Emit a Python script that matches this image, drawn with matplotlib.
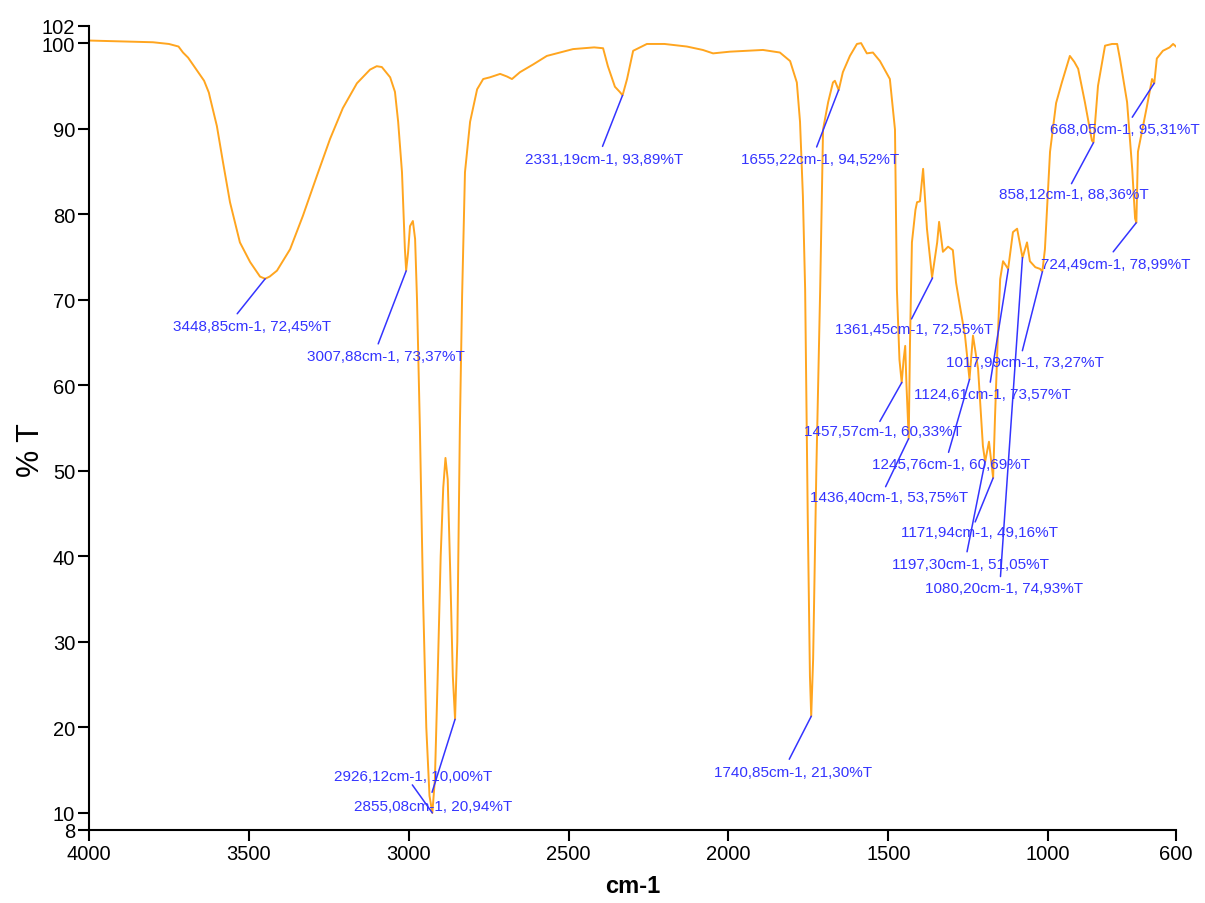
import matplotlib
matplotlib.use('Agg')
import matplotlib.pyplot as plt

plt.rcParams['font.family'] = ['Liberation Sans', 'DejaVu Sans']

# spectrum (cm-1, %T)
golfgetal = [4000, 3900, 3800, 3750, 3720, 3706, 3690, 3662, 3640, 3625, 3622, 3600, 3581, 3559,
             3528, 3496, 3465, 3449, 3435, 3412, 3371, 3331, 3287, 3246, 3206, 3162, 3121, 3100,
             3084, 3058, 3043, 3033, 3021, 3012, 3008, 3002, 2996, 2987, 2980, 2974, 2965, 2955,
             2945, 2935, 2926, 2918, 2910, 2900, 2892, 2885, 2878, 2870, 2862, 2855, 2848, 2840,
             2833, 2824, 2808, 2786, 2767, 2746, 2714, 2693, 2677, 2652, 2611, 2568, 2486, 2420,
             2392, 2377, 2355, 2340, 2331, 2317, 2298, 2255, 2200, 2130, 2080, 2048, 1995, 1892,
             1839, 1807, 1786, 1776, 1767, 1760, 1752, 1745, 1741, 1735, 1725, 1713, 1704, 1688,
             1673, 1667, 1655, 1642, 1620, 1598, 1585, 1567, 1548, 1526, 1495, 1479, 1473, 1465,
             1458, 1452, 1447, 1443, 1436, 1432, 1426, 1415, 1410, 1401, 1391, 1379, 1363, 1347,
             1341, 1329, 1313, 1298, 1288, 1276, 1260, 1246, 1235, 1219, 1204, 1197, 1185, 1172,
             1166, 1158, 1150, 1141, 1125, 1110, 1097, 1080, 1066, 1057, 1040, 1025, 1018, 1010,
             994, 975, 957, 932, 918, 906, 885, 863, 858, 844, 822, 800, 784, 775, 753, 737, 728,
             724, 719, 691, 675, 668, 660, 641, 620, 609, 600]
transmissie = [100.3, 100.2, 100.1, 99.9, 99.6, 98.9, 98.3, 96.8, 95.6, 94.2, 93.7, 90.3, 86.1, 81.4,
               76.7, 74.4, 72.7, 72.45, 72.7, 73.4, 75.9, 79.8, 84.5, 88.8, 92.4, 95.3, 96.9, 97.3,
               97.2, 96.0, 94.3, 90.8, 84.9, 76.0, 73.4, 75.5, 78.6, 79.2, 77.1, 70.0, 55, 35,
               20, 12, 10.0, 14, 25, 40, 48, 51.5, 49, 38, 26, 20.94, 30, 55,
               70.4, 84.9, 90.8, 94.6, 95.8, 96.0, 96.4, 96.1, 95.8, 96.6, 97.5, 98.5, 99.3, 99.5,
               99.4, 97.3, 94.9, 94.3, 93.9, 95.8, 99.1, 99.9, 99.9, 99.6, 99.2, 98.8, 99.0, 99.2,
               98.9, 97.9, 95.4, 90.8, 82.1, 71.2, 45, 26, 21.3, 28, 50, 71.2, 89.9, 93.1,
               95.4, 95.6, 94.5, 96.6, 98.5, 99.9, 100.0, 98.8, 98.9, 97.9, 95.8, 89.9, 71.2, 63,
               60.3, 63, 64.6, 60, 53.75, 65, 76.7, 80.5, 81.4, 81.5, 85.3, 78.3, 72.6, 76.7,
               79.1, 75.6, 76.2, 75.8, 72, 69.3, 65.8, 60.7, 65.8, 61.9, 52.9, 51.05, 53.4, 49.16,
               56.4, 65, 72.4, 74.5, 73.6, 77.9, 78.3, 74.9, 76.7, 74.5, 73.8, 73.6, 73.3, 75.9,
               87.3, 93, 95.4, 98.5, 97.8, 97.0, 93.1, 88.6, 88.4, 95.0, 99.7, 99.9, 99.9, 98.1, 93.1, 85.3, 79.5,
               79.0, 87.3, 92.6, 95.8, 95.3, 98.2, 99.1, 99.5, 99.9, 99.6]

# gelabelde pieken
piek_golfgetal = [3448.85, 3007.88, 2331.19, 1655.22, 668.05, 858.12, 724.49, 1361.45, 1017.99,
                  1124.61, 1457.57, 1245.76, 1436.40, 1171.94, 1197.30, 1080.20, 2926.12, 2855.08,
                  1740.85]
piek_transmissie = [72.45, 73.37, 93.89, 94.52, 95.31, 88.36, 78.99, 72.55, 73.27,
                    73.57, 60.33, 60.69, 53.75, 49.16, 51.05, 74.93, 10.00, 20.94,
                    21.30]

# verschuiving (pixels) van lijn-einde en tekstmidden t.o.v. de piek
lijn_dx = [-28, -28, -20, -22, -22, -22, -23, -21, -20, -18, -22, -21, -23, -18, -18, -22, -20, -23, -22]
lijn_dy = [-35, -73, -51, -57, -34, -41, -29, -41, -79, -113, -39, -73, -48, -44, -90, -319, 28, -73, -43]
tekst_dx = [-13, -20, -18, -19, -29, -20, -20, -18, -17, -16, -19, -18, -20, -14, -15, -18, -19, -22, -18]
tekst_dy = [-47, -85, -64, -69, -46, -51, -41, -51, -90, -125, -49, -85, -58, -54, -102, -330, 37, -87, -56]


def label(wn, t):
    return f"{wn:.2f}".replace('.', ',') + "cm-1, " + f"{t:.2f}".replace('.', ',') + "%T"


fig = plt.figure(figsize=(12.05, 9.04), dpi=100)
ax = fig.add_axes([89/1205, 1 - 831/904, 1087/1205, 804/904])

ax.plot(golfgetal, transmissie, color='#FFA51F', lw=1.4)

blauw = '#3434ff'
for i in range(len(piek_golfgetal)):
    p = (piek_golfgetal[i], piek_transmissie[i])
    ax.annotate('', xy=p, xytext=(lijn_dx[i], lijn_dy[i]), textcoords='offset pixels',
                arrowprops=dict(arrowstyle='-', color=blauw, lw=1.1, shrinkA=0, shrinkB=0))
    ax.annotate(label(*p), xy=p, xytext=(tekst_dx[i], tekst_dy[i]), textcoords='offset pixels',
                ha='center', va='center', color=blauw, fontsize=11)

ax.set_xlim(4000, 600)
ax.set_ylim(8, 102)
ax.set_xticks([4000, 3500, 3000, 2500, 2000, 1500, 1000, 600])
ax.set_yticks([8, 10, 20, 30, 40, 50, 60, 70, 80, 90, 100, 102])
ax.tick_params(direction='out', length=8, width=1.5, labelsize=14.5, pad=2)
for s in ['top', 'right']:
    ax.spines[s].set_visible(False)
for s in ['left', 'bottom']:
    ax.spines[s].set_linewidth(1.5)

ax.set_xlabel('cm-1', fontsize=17, fontweight='bold', labelpad=8)
fig.text(31/1205, 1 - 450/904, '% T', rotation=90, ha='center', va='center', fontsize=22)

fig.savefig('out.png', dpi=100)
